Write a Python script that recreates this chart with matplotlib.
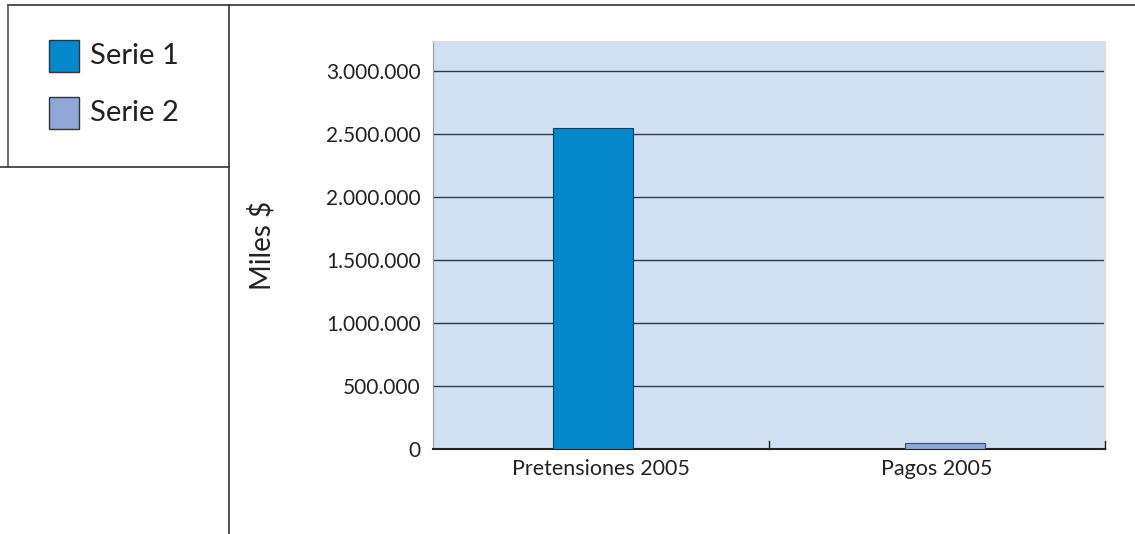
import numpy as np
import matplotlib.pyplot as plt
from matplotlib.lines import Line2D
from matplotlib.patches import Rectangle

plt.rcParams['font.family'] = ['Lato', 'DejaVu Sans']

categories = ["Pretensiones 2005", "Pagos 2005"]
series_names = ["Serie 1", "Serie 2"]
serie1 = [2550000, 0]
serie2 = [0, 45000]
yticks = [0, 500000, 1000000, 1500000, 2000000, 2500000, 3000000]
ytick_labels = ["0", "500.000", "1.000.000", "1.500.000", "2.000.000", "2.500.000", "3.000.000"]

c1 = "#0587CB"
c2 = "#8FA8D8"

fig = plt.figure(figsize=(11.35, 5.34), dpi=100)
ax = fig.add_axes([0.3815, 0.1592, 0.5921, 0.7621])
ax.set_facecolor("#D0DFF1")

x = np.arange(len(categories))
w = 0.24
off = 0.024
# each series only has a value in one category
ax.bar(x[0] - off, serie1[0], width=w, color=c1, edgecolor="#1d3a4f", linewidth=0.8, zorder=3)
ax.bar(x[1] + off, serie2[1], width=w, color=c2, edgecolor="#3b4c66", linewidth=0.8, zorder=3)

ax.set_xlim(-0.5, 1.5)
ax.set_ylim(0, 3230000)
ax.set_yticks(yticks)
ax.set_yticklabels(ytick_labels, fontsize=15, color="#222222")
ax.set_xticks(x)
ax.set_xticklabels(categories, fontsize=15.5, color="#222222")
ax.tick_params(axis='x', length=0, pad=7)
ax.tick_params(axis='y', length=0, pad=9)
for yt in yticks[1:]:
    ax.axhline(yt, color="#2b3a48", linewidth=1, zorder=2)
# small category separators on the baseline
for xs in [0.5, 1.5]:
    ax.plot([xs, xs], [0, 60000], color="#222222", linewidth=1, zorder=4, clip_on=False)

for s in ['top', 'right']:
    ax.spines[s].set_color("#dddddd")
    ax.spines[s].set_linewidth(1.5)
ax.spines['left'].set_color("#999999")
ax.spines['bottom'].set_color("#222222")
ax.spines['bottom'].set_linewidth(1.5)
ax.set_ylabel("Miles $", fontsize=20, labelpad=36, color="#222222")

# frame lines and legend box
fig.add_artist(Line2D([8/1135, 1], [1 - 5/534, 1 - 5/534], color="#333333", linewidth=1.2))
fig.add_artist(Line2D([229/1135, 229/1135], [0, 1 - 5/534], color="#333333", linewidth=1.2))
fig.add_artist(Line2D([8/1135, 8/1135], [1 - 167/534, 1 - 5/534], color="#555555", linewidth=1.2))
fig.add_artist(Line2D([0, 229/1135], [1 - 167/534, 1 - 167/534], color="#333333", linewidth=1.2))

for i, (name, col) in enumerate(zip(series_names, [c1, c2])):
    ytop = 40 + i * 57
    fig.add_artist(Rectangle((49/1135, 1 - (ytop + 32)/534), 30/1135, 32/534,
                             facecolor=col, edgecolor="#333333", linewidth=1))
    fig.text(90/1135, 1 - (ytop + 16)/534, name, fontsize=21, va='center', ha='left', color="#222222")

fig.savefig("out.png", dpi=100)
